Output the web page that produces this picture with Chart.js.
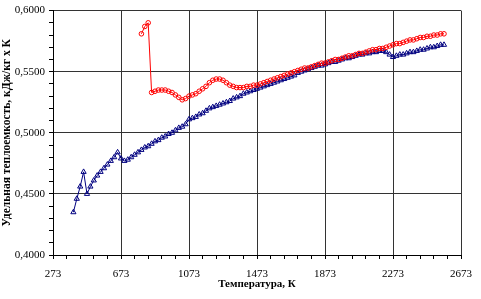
<!DOCTYPE html>
<html>
<head>
<meta charset="utf-8">
<script src="https://cdn.jsdelivr.net/npm/chart.js@4/dist/chart.umd.min.js"></script>
<style>
  html, body { margin: 0; padding: 0; background: #ffffff; }
  #wrap { width: 481px; height: 299px; position: relative; }
</style>
</head>
<body>
<div id="wrap"><canvas id="c" width="481" height="299"></canvas></div>
<script>
// ---- data ----
const blueT = [393,413,433,453,473,493,513,533,553,573,593,613,633,653,673,693,713,733,753,773,793,813,833,853,873,893,913,933,953,973,993,1013,1033,1053,1073,1093,1113,1133,1153,1173,1193,1213,1233,1253,1273,1293,1313,1333,1353,1373,1393,1413,1433,1453,1473,1493,1513,1533,1553,1573,1593,1613,1633,1653,1673,1693,1713,1733,1753,1773,1793,1813,1833,1853,1873,1893,1913,1933,1953,1973,1993,2013,2033,2053,2073,2093,2113,2133,2153,2173,2193,2213,2233,2253,2273,2293,2313,2333,2353,2373,2393,2413,2433,2453,2473,2493,2513,2533,2553,2573];
const blueCp = [0.435,0.446,0.456,0.468,0.450,0.456,0.461,0.465,0.468,0.471,0.474,0.477,0.480,0.484,0.479,0.477,0.478,0.480,0.482,0.484,0.486,0.488,0.489,0.491,0.493,0.494,0.496,0.497,0.499,0.500,0.502,0.504,0.505,0.507,0.511,0.512,0.513,0.515,0.516,0.518,0.520,0.521,0.522,0.523,0.524,0.525,0.526,0.528,0.529,0.530,0.532,0.533,0.534,0.535,0.536,0.537,0.538,0.539,0.540,0.541,0.542,0.543,0.544,0.545,0.546,0.547,0.549,0.550,0.551,0.552,0.553,0.554,0.555,0.555,0.556,0.557,0.558,0.558,0.559,0.560,0.561,0.561,0.562,0.563,0.564,0.564,0.565,0.565,0.566,0.566,0.567,0.567,0.566,0.564,0.562,0.563,0.564,0.564,0.565,0.566,0.566,0.567,0.568,0.568,0.569,0.570,0.570,0.571,0.572,0.572];
const redT = [793,813,833,853,873,893,913,933,953,973,993,1013,1033,1053,1073,1093,1113,1133,1153,1173,1193,1213,1233,1253,1273,1293,1313,1333,1353,1373,1393,1413,1433,1453,1473,1493,1513,1533,1553,1573,1593,1613,1633,1653,1673,1693,1713,1733,1753,1773,1793,1813,1833,1853,1873,1893,1913,1933,1953,1973,1993,2013,2033,2053,2073,2093,2113,2133,2153,2173,2193,2213,2233,2253,2273,2293,2313,2333,2353,2373,2393,2413,2433,2453,2473,2493,2513,2533,2553,2573];
const redCp = [0.581,0.587,0.590,0.533,0.534,0.535,0.535,0.535,0.534,0.533,0.531,0.529,0.527,0.528,0.530,0.531,0.532,0.534,0.536,0.538,0.541,0.543,0.544,0.544,0.543,0.541,0.539,0.538,0.537,0.537,0.537,0.538,0.538,0.539,0.539,0.540,0.541,0.542,0.543,0.544,0.545,0.546,0.547,0.548,0.549,0.550,0.551,0.552,0.553,0.553,0.554,0.555,0.556,0.557,0.557,0.558,0.559,0.560,0.560,0.561,0.562,0.563,0.563,0.564,0.565,0.565,0.566,0.567,0.568,0.568,0.569,0.569,0.570,0.571,0.572,0.573,0.573,0.574,0.575,0.576,0.576,0.577,0.578,0.578,0.579,0.579,0.580,0.580,0.581,0.581];
const xMajorTicks = [273,673,1073,1473,1873,2273,2673];
const xTickLabels = ['273','673','1073','1473','1873','2273','2673'];
const yMajorTicks = [0.40,0.45,0.50,0.55,0.60];
const yTickLabels = ['0,4000','0,4500','0,5000','0,5500','0,6000'];
const xTitle = 'Температура, К';
const yTitle = 'Удельная теплоемкость, кДж/кг х К';

// ---- build ----
const toPts = (xs, ys) => xs.map((x, i) => ({x: x, y: ys[i]}));
const isMajor = (arr, v, eps) => arr.findIndex(a => Math.abs(a - v) < eps);

new Chart(document.getElementById('c'), {
  type: 'scatter',
  data: {
    datasets: [
      {
        data: toPts(redT, redCp),
        showLine: true,
        borderColor: '#ff0000',
        borderWidth: 1,
        pointStyle: 'circle',
        pointRadius: 2.3,
        pointBorderWidth: 1,
        pointBorderColor: '#ff0000',
        pointBackgroundColor: 'rgba(255,255,255,0)'
      },
      {
        data: toPts(blueT, blueCp),
        showLine: true,
        borderColor: '#000080',
        borderWidth: 1,
        pointStyle: 'triangle',
        pointRadius: 3,
        pointBorderWidth: 1,
        pointBorderColor: '#000080',
        pointBackgroundColor: 'rgba(255,255,255,0)'
      }
    ]
  },
  options: {
    responsive: false,
    animation: false,
    devicePixelRatio: 1,
    layout: { padding: { top: 5, right: 10, bottom: 0, left: 0 } },
    plugins: { legend: { display: false }, tooltip: { enabled: false } },
    scales: {
      x: {
        type: 'linear',
        min: 273, max: 2673,
        afterFit: s => { s.height = 44; },
        ticks: {
          stepSize: 80,
          autoSkip: false,
          maxRotation: 0,
          padding: 9,
          color: '#000',
          font: { family: 'Liberation Serif', size: 11 },
          callback: v => { const i = isMajor(xMajorTicks, v, 1); return i >= 0 ? xTickLabels[i] : ''; }
        },
        grid: {
          drawTicks: true,
          tickLength: 4,
          tickColor: '#000',
          tickWidth: 1,
          lineWidth: 1,
          color: ctx => (ctx.tick && isMajor(xMajorTicks, ctx.tick.value, 1) > 0) ? '#333' : 'rgba(0,0,0,0)'
        },
        border: { display: true, color: '#000', width: 1 },
        title: {
          display: true,
          text: xTitle,
          color: '#000',
          font: { family: 'Liberation Serif', size: 11, weight: 'bold' },
          padding: { top: 0, bottom: 8 }
        }
      },
      y: {
        type: 'linear',
        min: 0.40, max: 0.60,
        afterFit: s => { s.width = 53; },
        ticks: {
          stepSize: 0.01,
          autoSkip: false,
          padding: 4,
          color: '#000',
          font: { family: 'Liberation Serif', size: 11 },
          callback: v => { const i = isMajor(yMajorTicks, v, 0.001); return i >= 0 ? yTickLabels[i] : ''; }
        },
        grid: {
          drawTicks: true,
          tickLength: 4,
          tickColor: '#000',
          tickWidth: 1,
          lineWidth: 1,
          color: ctx => (ctx.tick && isMajor(yMajorTicks, ctx.tick.value, 0.001) > 0) ? '#333' : 'rgba(0,0,0,0)'
        },
        border: { display: true, color: '#000', width: 1 },
        title: {
          display: true,
          text: yTitle,
          color: '#000',
          font: { family: 'Liberation Serif', size: 11.5, weight: 'bold' },
          padding: { top: 0, bottom: 0 }
        }
      }
    }
  }
});
</script>
</body>
</html>
